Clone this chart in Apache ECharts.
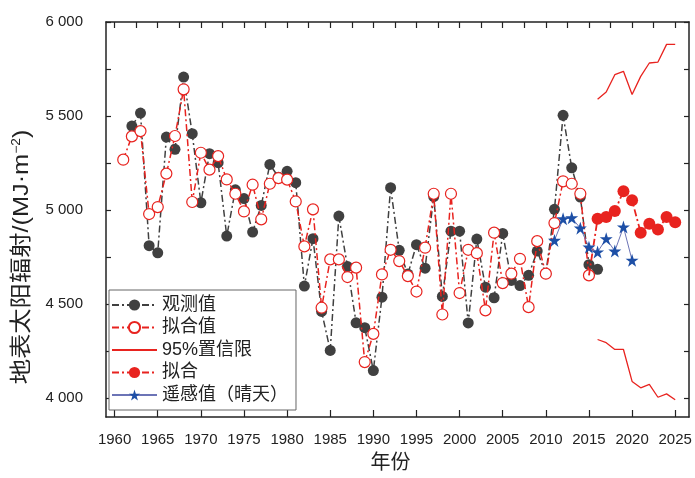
<!DOCTYPE html>
<html><head><meta charset="utf-8">
<script src="https://cdn.jsdelivr.net/npm/echarts@6/dist/echarts.min.js"></script>
<style>html,body{margin:0;padding:0;background:#fff}#c{width:695px;height:478px}</style>
</head><body><div id="c"></div>
<script>
// ---- data ----
var obsStart = 1962;
var observed = [5447,5516,4811,4773,5388,5323,5707,5406,5039,5300,5252,4862,5108,5061,4883,5025,5243,5175,5206,5146,
  4596,4848,4461,4254,4968,4700,4401,4375,4147,4537,5119,4786,4660,4816,4691,5072,4541,4888,4888,4400,
  4846,4590,4534,4876,4626,4599,4653,4782,4662,5004,5504,5225,5069,4710,4685];
var fitStart = 1961;
var fitted = [5268,5392,5420,4979,5016,5194,5394,5642,5043,5305,5215,5287,5163,5087,4993,5135,4951,5140,5170,5162,
  5046,4807,5004,4481,4738,4738,4644,4694,4192,4342,4658,4789,4729,4649,4567,4800,5087,4445,5087,4559,
  4789,4771,4467,4880,4612,4662,4741,4484,4835,4662,4931,5153,5140,5087,4653];
var fcStart = 2015;
var forecast = [4653,4954,4963,4995,5100,5052,4880,4928,4897,4963,4936];
var ciStart = 2016;
var upper = [5589,5628,5720,5738,5615,5711,5782,5787,5881,5881];
var lower = [4312,4295,4259,4259,4089,4055,4073,4005,4023,3992];
var rsStart = 2011;
var remote = [4839,4954,4959,4904,4803,4777,4848,4782,4910,4733];
var xTickLabels = [1960,1965,1970,1975,1980,1985,1990,1995,2000,2005,2010,2015,2020,2025];
var yTickLabels = [4000,4500,5000,5500,6000];
var names = ['观测值','拟合值','95%置信限','拟合','遥感值（晴天）'];

function pairs(start, arr){ return arr.map(function(v,i){ return [start+i, v]; }); }

var RED = '#e8231f', DARK = '#404040', BLUE = '#1d4fa6';
var FONT = 'Liberation Sans, Arial, Noto Sans CJK SC, sans-serif';
var dashDot = [7,3,2,3];

var yMinor = []; for (var v = 4000; v <= 6000; v += 250) yMinor.push(v);
var xMinor = []; for (var t = 1960; t <= 2025; t += 2.5) xMinor.push(t);

function fmtY(v){ var s = String(v); return s.slice(0, s.length-3) + ' ' + s.slice(-3); }

var fcData = pairs(fcStart, forecast).map(function(p,i){
  return i === 0 ? {value:p, symbolSize:0} : p;
});

var option = {
  backgroundColor: '#fff',
  animation: false,
  grid: {left:106, right:6, top:22, bottom:61, containLabel:false, outerBoundsMode:'none'},
  xAxis: [{
    type:'value', min:1959, max:2026.6, position:'bottom',
    name:'年份', nameLocation:'middle', nameGap:36,
    nameTextStyle:{fontSize:20, color:'#222', fontFamily:FONT, padding:[0,14,0,0]},
    axisLine:{show:true, onZero:false, lineStyle:{color:'#222', width:1.5}},
    axisTick:{show:true, inside:true, length:7, customValues:xTickLabels, lineStyle:{color:'#222', width:1.2}},
    axisLabel:{customValues:xTickLabels, fontSize:15, color:'#222', fontFamily:FONT, margin:15,
      formatter:function(v){ return String(v); }},
    splitLine:{show:false}
  },{
    type:'value', min:1959, max:2026.6, position:'top',
    axisLine:{show:true, onZero:false, lineStyle:{color:'#222', width:1.5}},
    axisTick:{show:true, inside:true, length:6, customValues:xMinor, lineStyle:{color:'#222', width:1.2}},
    axisLabel:{show:false}, splitLine:{show:false}
  }],
  yAxis: [{
    type:'value', min:3900, max:6000, position:'left',
    axisLine:{show:true, onZero:false, lineStyle:{color:'#222', width:1.5}},
    axisTick:{show:true, inside:true, length:5, customValues:yMinor, lineStyle:{color:'#222', width:1.2}},
    axisLabel:{customValues:yTickLabels, fontSize:15, color:'#222', fontFamily:FONT, margin:23, formatter:fmtY},
    splitLine:{show:false}
  },{
    type:'value', min:3900, max:6000, position:'right',
    axisLine:{show:true, onZero:false, lineStyle:{color:'#222', width:1.5}},
    axisTick:{show:true, inside:true, length:5, customValues:yMinor, lineStyle:{color:'#222', width:1.2}},
    axisLabel:{show:false}, splitLine:{show:false}
  }],
  legend: {
    orient:'vertical', left:109, top:290,
    padding:[6,8,6,2], itemGap:4.5, itemWidth:45, itemHeight:14,
    borderColor:'#666', borderWidth:1, backgroundColor:'#fff',
    textStyle:{fontSize:18, color:'#222', fontFamily:FONT, lineHeight:18},
    data:[names[0], names[1], {name:names[2], itemStyle:{opacity:0}}, names[3], names[4]]
  },
  graphic: [{
    type:'text', x:22, y:257, rotation:Math.PI/2, scaleX:1.15,
    style:{
      text:'地表太阳辐射/(MJ·m{sup|−2})',
      fontSize:22, fontFamily:FONT, fill:'#222',
      textAlign:'center', textVerticalAlign:'middle',
      rich:{ sup:{fontSize:12, fontFamily:FONT, fill:'#222', verticalAlign:'top', padding:[0,0,9,0]} }
    }
  }],
  series: [
    {name:names[0], type:'line', data:pairs(obsStart, observed), symbol:'circle', symbolSize:11,
     itemStyle:{color:DARK}, lineStyle:{color:DARK, width:1.5, type:dashDot}, z:2},
    {name:names[1], type:'line', data:pairs(fitStart, fitted), symbol:'circle', symbolSize:11,
     itemStyle:{color:'#fff', borderColor:RED, borderWidth:1.2}, lineStyle:{color:RED, width:1.5, type:dashDot}, z:3},
    {name:names[2], type:'line', data:pairs(ciStart, upper), symbol:'none',
     itemStyle:{color:RED}, lineStyle:{color:RED, width:1.3}, z:3},
    {name:names[2], type:'line', data:pairs(ciStart, lower), symbol:'none',
     itemStyle:{color:RED}, lineStyle:{color:RED, width:1.3}, z:3},
    {name:names[3], type:'line', data:fcData, symbol:'circle', symbolSize:12,
     itemStyle:{color:RED}, lineStyle:{color:RED, width:1.8, type:dashDot}, z:4},
    {name:names[4], type:'line', data:pairs(rsStart, remote), symbol:'path://M50,0 L61.8,36.2 L100,36.2 L69.1,58.8 L80.9,95.1 L50,72.7 L19.1,95.1 L30.9,58.8 L0,36.2 L38.2,36.2 Z', symbolSize:13,
     itemStyle:{color:BLUE}, lineStyle:{color:'#6c74b6', width:1}, z:5}
  ]
};
echarts.init(document.getElementById('c')).setOption(option);
</script>
</body></html>
